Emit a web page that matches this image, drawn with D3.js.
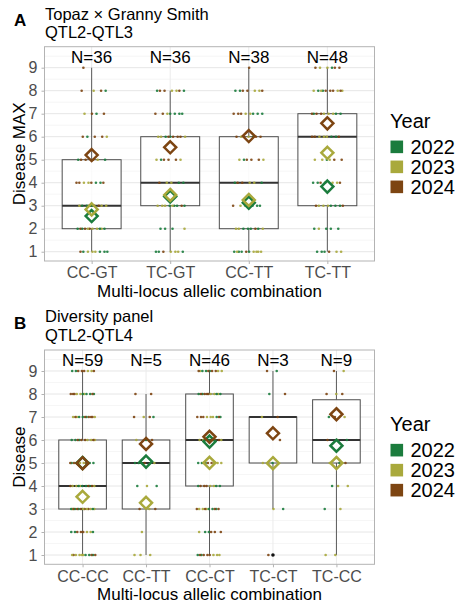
<!DOCTYPE html>
<html>
<head>
<meta charset="utf-8">
<script src="https://cdn.jsdelivr.net/npm/d3@7"></script>
<style>
  body { margin: 0; background: #fff; }
  text { font-family: "Liberation Sans", Arial, sans-serif; }
</style>
</head>
<body>
<div id="chart"></div>
<script>
// years and their legend labels
const years = ["2022", "2023", "2024"];

// panel A: Topaz x Granny Smith, QTL2-QTL3
const catsA = ["CC-GT", "TC-GT", "CC-TT", "TC-TT"];
const nA = [36, 36, 38, 48];
// [lower whisker, q1, median, q3, upper whisker]
const boxA = [[1, 2, 3, 5, 9], [1, 3, 4, 6, 8], [1, 2, 4, 6, 9], [1, 3, 6, 7, 9]];
// yearly means [2022, 2023, 2024]
const meansA = [[2.55, 2.84, 5.2], [3.4, 3.47, 5.54], [3.13, 3.25, 6.03], [3.83, 5.3, 6.58]];
// dot counts per score 1..9, [2022, 2023, 2024]
const countsA = [
  [[4,3,1],[4,4,3],[3,3,3],[2,2,4],[2,1,3],[1,1,3],[1,1,2],[1,1,2],[0,0,1]],
  [[3,3,1],[3,1,0],[4,4,1],[2,2,1],[1,2,3],[2,3,4],[4,1,2],[2,2,3],[0,0,0]],
  [[4,5,1],[4,3,1],[3,3,1],[2,2,2],[1,2,3],[1,2,4],[3,2,3],[2,2,3],[0,0,1]],
  [[3,2,1],[4,1,0],[3,3,2],[2,2,3],[1,3,2],[2,3,3],[3,3,3],[2,4,4],[1,2,3]]
];
const outliersA = [[], [], [], []];

// panel B: Diversity panel, QTL2-QTL4
const catsB = ["CC-CC", "CC-TT", "CC-CT", "TC-CT", "TC-CC"];
const nB = [59, 5, 46, 3, 9];
const boxB = [[1, 3, 4, 6, 9], [1, 3, 5, 6, 8], [1, 4, 6, 8, 9], [3, 5, 7, 7, 9], [1, 5, 6, 7.75, 9]];
const meansB = [[5.0, 3.53, 4.99], [5.06, 3.27, 5.83], [5.93, 5.01, 6.14], [null, 4.99, 6.29], [5.75, 5.0, 7.12]];
const countsB = [
  [[3,5,3],[3,2,3],[5,5,5],[4,4,3],[3,3,5],[3,3,4],[3,3,5],[4,3,4],[2,2,4]],
  [[0,3,0],[0,1,0],[0,1,2],[2,1,0],[2,1,1],[1,1,1],[1,1,2],[0,0,2],[0,0,0]],
  [[2,3,4],[2,1,3],[3,3,4],[3,2,3],[3,3,3],[3,3,3],[2,3,4],[4,3,4],[3,3,4]],
  [[0,0,1],[0,0,0],[1,1,0],[0,0,0],[1,1,0],[0,0,1],[0,1,1],[1,0,1],[1,0,1]],
  [[0,2,0],[0,0,0],[1,1,0],[1,2,0],[1,1,1],[1,1,1],[1,1,1],[0,1,2],[0,1,1]]
];
const outliersB = [[], [], [], [1], []];

const scoreTicks = [1, 2, 3, 4, 5, 6, 7, 8, 9];

const color = d3.scaleOrdinal()
  .domain(years)
  .range(["#1b7c3d", "#a9a93c", "#7d4512"]);

const width = 463, height = 603;
const svg = d3.select("#chart").append("svg")
  .attr("width", width)
  .attr("height", height);

function drawPanel(p) {
  const g = svg.append("g");

  const y = d3.scaleLinear().domain([0.596, 9.913]).range([p.y1, p.y0]);
  const x = d3.scalePoint().domain(p.cats).range([p.x0, p.x1]).padding(0.6);
  const step = x.step();
  const boxW = step * 0.75;
  const jit = step * 0.2;

  // minor grid
  g.append("g").selectAll("line")
    .data(d3.range(1.5, 9.6, 1))
    .join("line")
    .attr("x1", p.x0).attr("x2", p.x1)
    .attr("y1", d => y(d)).attr("y2", d => y(d))
    .attr("stroke", "#f0f0f0").attr("stroke-width", 0.6);
  // major grid
  g.append("g").selectAll("line")
    .data(scoreTicks)
    .join("line")
    .attr("x1", p.x0).attr("x2", p.x1)
    .attr("y1", d => y(d)).attr("y2", d => y(d))
    .attr("stroke", "#e6e6e6").attr("stroke-width", 1);
  g.append("g").selectAll("line")
    .data(p.cats)
    .join("line")
    .attr("x1", d => x(d)).attr("x2", d => x(d))
    .attr("y1", p.y0).attr("y2", p.y1)
    .attr("stroke", "#ebebeb").attr("stroke-width", 1);

  // boxplots
  const boxes = g.append("g").selectAll("g")
    .data(p.boxes)
    .join("g")
    .attr("transform", (d, i) => "translate(" + x(p.cats[i]) + ",0)");
  boxes.append("line")
    .attr("y1", d => y(d[0])).attr("y2", d => y(d[1]))
    .attr("stroke", "#5a5a5a").attr("stroke-width", 1);
  boxes.append("line")
    .attr("y1", d => y(d[3])).attr("y2", d => y(d[4]))
    .attr("stroke", "#5a5a5a").attr("stroke-width", 1);
  boxes.append("rect")
    .attr("x", -boxW / 2).attr("width", boxW)
    .attr("y", d => y(d[3])).attr("height", d => y(d[1]) - y(d[3]))
    .attr("fill", "#ffffff").attr("fill-opacity", 0.75)
    .attr("stroke", "#4d4d4d").attr("stroke-width", 1);
  boxes.append("line")
    .attr("x1", -boxW / 2).attr("x2", boxW / 2)
    .attr("y1", d => y(d[2])).attr("y2", d => y(d[2]))
    .attr("stroke", "#333").attr("stroke-width", 2);

  // jittered dots
  const dots = [];
  p.counts.forEach((rows, i) => {
    rows.forEach((c, r) => {
      const list = [];
      const maxC = d3.max(c);
      for (let k = 0; k < maxC; k++) {
        c.forEach((n, yi) => { if (k < n) list.push(yi); });
      }
      list.forEach((yi, k) => {
        const f = ((k + 1) * 0.618034 + (r + 1) * 0.291 + i * 0.137) % 1;
        dots.push({ cat: p.cats[i], score: r + 1, year: years[yi], off: (f * 2 - 1) * jit });
      });
    });
  });
  g.append("g").selectAll("circle")
    .data(dots)
    .join("circle")
    .attr("cx", d => x(d.cat) + d.off)
    .attr("cy", d => y(d.score))
    .attr("r", 1.3)
    .attr("fill", d => color(d.year))
    .attr("fill-opacity", 0.9);

  // outliers
  p.outliers.forEach((o, i) => {
    g.append("g").selectAll("circle")
      .data(o)
      .join("circle")
      .attr("cx", x(p.cats[i]))
      .attr("cy", d => y(d))
      .attr("r", 1.8)
      .attr("fill", "#111");
  });

  // yearly means as hollow diamonds
  const mean = [];
  p.means.forEach((m, i) => {
    m.forEach((v, yi) => { if (v != null) mean.push({ cat: p.cats[i], v: v, year: years[yi] }); });
  });
  const ds = 6;
  g.append("g").selectAll("path")
    .data(mean)
    .join("path")
    .attr("transform", d => "translate(" + x(d.cat) + "," + y(d.v) + ")")
    .attr("d", "M0," + (-ds) + "L" + ds + ",0L0," + ds + "L" + (-ds) + ",0Z")
    .attr("fill", "none")
    .attr("stroke", d => color(d.year))
    .attr("stroke-width", 2.5);

  // panel border
  g.append("rect")
    .attr("x", p.x0).attr("y", p.y0)
    .attr("width", p.x1 - p.x0).attr("height", p.y1 - p.y0)
    .attr("fill", "none").attr("stroke", "#b3b3b3").attr("stroke-width", 1);

  // N labels
  g.append("g").selectAll("text")
    .data(p.ns)
    .join("text")
    .attr("x", (d, i) => x(p.cats[i]))
    .attr("y", y(9) - 5)
    .attr("text-anchor", "middle")
    .attr("font-size", 17)
    .attr("fill", "#000")
    .text(d => "N=" + d);

  // axes
  const yAxis = g.append("g")
    .attr("transform", "translate(" + p.x0 + ",0)")
    .call(d3.axisLeft(y).tickValues(scoreTicks).tickSize(3).tickPadding(4));
  const xAxis = g.append("g")
    .attr("transform", "translate(0," + p.y1 + ")")
    .call(d3.axisBottom(x).tickSize(3).tickPadding(3));
  [yAxis, xAxis].forEach(a => {
    a.select(".domain").remove();
    a.selectAll(".tick line").attr("stroke", "#b3b3b3");
    a.selectAll(".tick text")
      .attr("fill", "#4d4d4d")
      .attr("font-size", 16)
      .style("font-family", "'Liberation Sans', Arial, sans-serif");
  });

  // axis titles
  g.append("text")
    .attr("transform", "translate(25," + (p.y0 + p.y1) / 2 + ") rotate(-90)")
    .attr("text-anchor", "middle")
    .attr("font-size", 17)
    .text(p.yTitle);
  g.append("text")
    .attr("x", (p.x0 + p.x1) / 2)
    .attr("y", p.y1 + 35.5)
    .attr("text-anchor", "middle")
    .attr("font-size", 17)
    .text("Multi-locus allelic combination");

  // panel letter and titles
  g.append("text")
    .attr("x", 14).attr("y", p.letterY)
    .attr("font-size", 17).attr("font-weight", "bold")
    .text(p.letter);
  g.append("text")
    .attr("x", 45).attr("y", p.letterY - 6.5)
    .attr("font-size", 16.5)
    .text(p.title1);
  g.append("text")
    .attr("x", 45).attr("y", p.letterY + 12)
    .attr("font-size", 16.5)
    .text(p.title2);

  // legend
  const cy = (p.y0 + p.y1) / 2;
  const lg = g.append("g").attr("transform", "translate(390," + cy + ")");
  lg.append("text")
    .attr("x", 0).attr("y", -26)
    .attr("font-size", 20)
    .text("Year");
  const items = lg.selectAll("g.item")
    .data(years)
    .join("g")
    .attr("class", "item")
    .attr("transform", (d, i) => "translate(0," + (-7 + i * 20) + ")");
  items.append("rect")
    .attr("x", 0.5).attr("y", -6.3)
    .attr("width", 12.6).attr("height", 12.6)
    .attr("fill", d => color(d));
  items.append("text")
    .attr("x", 20.5).attr("y", 7)
    .attr("font-size", 20)
    .text(d => d);
}

drawPanel({
  x0: 44.5, x1: 374.5, y0: 46.7, y1: 261,
  cats: catsA, ns: nA, boxes: boxA, means: meansA, counts: countsA, outliers: outliersA,
  yTitle: "Disease MAX", letter: "A", letterY: 26,
  title1: "Topaz × Granny Smith", title2: "QTL2-QTL3"
});
drawPanel({
  x0: 44.5, x1: 374.5, y0: 350, y1: 564.3,
  cats: catsB, ns: nB, boxes: boxB, means: meansB, counts: countsB, outliers: outliersB,
  yTitle: "Disease", letter: "B", letterY: 328.5,
  title1: "Diversity panel", title2: "QTL2-QTL4"
});
</script>
</body>
</html>
